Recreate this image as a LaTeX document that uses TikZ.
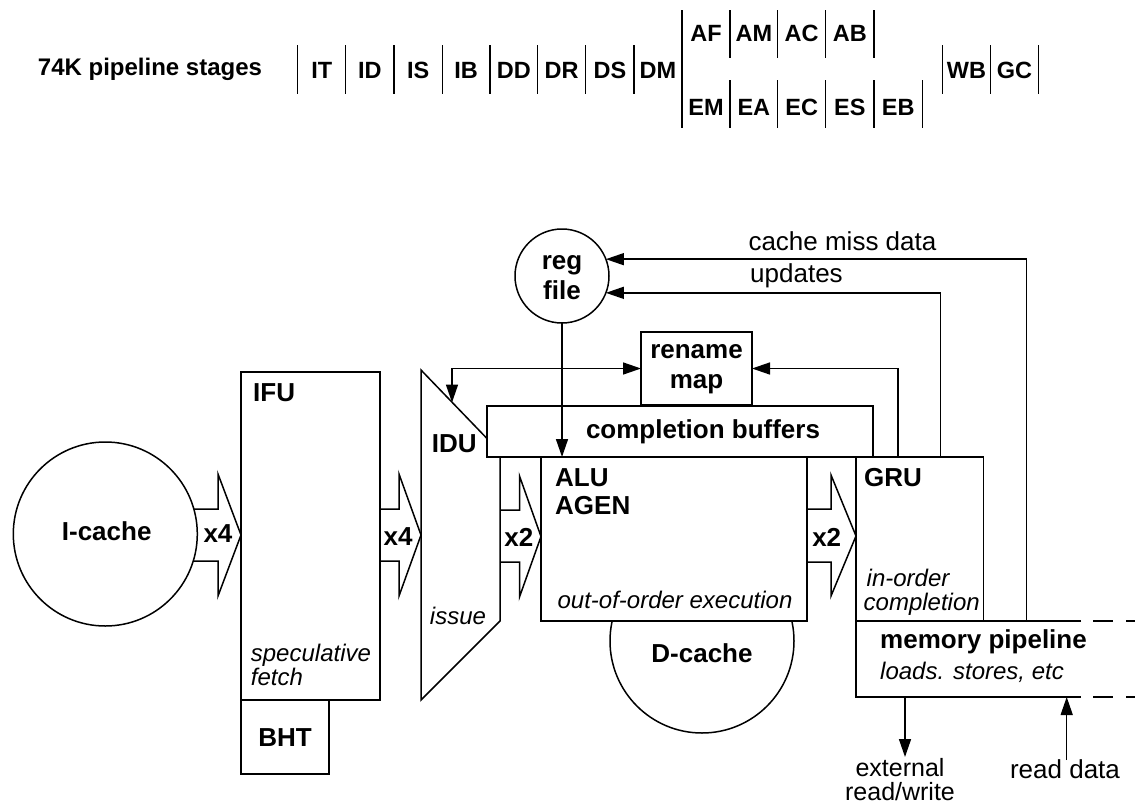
\documentclass[tikz,border=0pt]{standalone}
\usepackage{fontspec}
\setmainfont{Liberation Sans}
\usetikzlibrary{arrows.meta,calc}
\tikzset{
  ln/.style={line width=1.5pt},
  blk/.style={draw, line width=1.5pt, inner sep=0pt, outer sep=0pt, fill=white},
  bl/.style={font=\fontsize{26}{30}\selectfont\bfseries, inner sep=0pt},
  it/.style={font=\fontsize{24}{26}\selectfont\itshape, inner sep=0pt},
  rg/.style={font=\fontsize{26}{28}\selectfont, inner sep=0pt},
  stg/.style={font=\fontsize{23.5}{28}\selectfont\bfseries, inner sep=0pt, anchor=base},
  arr/.style={line width=1.5pt, -{Triangle[length=18pt,width=12pt]}},
  arrb/.style={line width=1.5pt, {Triangle[length=18pt,width=12pt]}-{Triangle[length=18pt,width=12pt]}},
  barrow/.style={line width=1.5pt, line join=miter},
  dsh/.style={line width=1.5pt, dash pattern=on 20pt off 13pt, dash phase=21pt},
}
\begin{document}
\begin{tikzpicture}[x=1pt,y=-1pt]
\fill[white] (0,0) rectangle (1135,806);
\useasboundingbox (0,0) rectangle (1135,806);

% ---------- pipeline stages ----------
\node[font=\fontsize{24}{28}\selectfont\bfseries, inner sep=0pt, anchor=base] (title) at (150,75) {74K pipeline stages};
\foreach \x in {297.7,345.7,394,442.3,490,537.7,585.7,634}
  \draw[ln] (\x,45) -- (\x,94.3);
\draw[ln] (682,10) -- (682,128.3);
\foreach \x in {730,777.7,825.7,874}
  \draw[ln] (\x,10) -- (\x,58.3);
\foreach \x in {730,777.7,825.7,874,922.3}
  \draw[ln] (\x,80) -- (\x,128.3);
\foreach \x in {942.3,990.7,1038.3}
  \draw[ln] (\x,45) -- (\x,94.3);
\foreach \t/\x in {IT/321.7,ID/369.85,IS/418.15,IB/466.15,DD/513.85,DR/561.7,DS/609.85,DM/658,WB/966.5,GC/1014.5}
  \node[stg] (s\t) at (\x,78.3) {\t};
\foreach \t/\x in {AF/706,AM/753.85,AC/801.7,AB/849.85}
  \node[stg] (s\t) at (\x,41.7) {\t};
\foreach \t/\x in {EM/706,EA/753.85,EC/801.7,ES/849.85,EB/898.15}
  \node[stg] (s\t) at (\x,115) {\t};

% ---------- I-cache and IFU ----------
\node[blk, circle, minimum size=184pt] (icache) at (105.3,534) {};
\node[bl, anchor=base] (icachel) at (106.7,540.3) {I-cache};
\node[blk, minimum width=139pt, minimum height=328pt] (ifu) at (310.5,536) {};
\node[blk, minimum width=88pt, minimum height=74pt] (bht) at (285,737) {};
\node[bl, anchor=base] (bhtl) at (285,746) {BHT};
\node[bl, anchor=base west] (iful) at (253,401.3) {IFU};
\node[it, anchor=base west] (spec1) at (250.7,661.7) {speculative};
\node[it, anchor=base west] (spec2) at (250.7,685) {fetch};

% block arrow I-cache -> IFU
\draw[barrow] (193.8,509) -- (218,509) -- (218,474) -- (ifu.west |- 0,535) -- (218,596) -- (218,561) -- (193.8,561);
\node[bl, anchor=base] (x4a) at (218,542.3) {x4};
% block arrow IFU -> IDU
\coordinate (idutl) at (421,370);
\coordinate (idutr) at (500,452);
\coordinate (idubr) at (500,621);
\coordinate (idubl) at (421,700);
\draw[barrow] (ifu.east |- 0,509) -- (399,509) -- (399,474) -- (idutl |- 0,535) -- (399,596) -- (399,561) -- (ifu.east |- 0,561);
\node[bl, anchor=base] (x4b) at (398,545) {x4};

% ---------- IDU ----------
\draw[ln, line join=miter] (idutl) -- (idutr) -- (idubr) -- (idubl) -- cycle;
\node[bl, anchor=base west] (idul) at (431.7,452.3) {IDU};
\node[it, anchor=base] (issue) at (458,624.5) {issue};

% ---------- D-cache, ALU ----------
\node[blk, circle, minimum size=184pt] (dcache) at (702,641) {};
\node[blk, minimum width=266pt, minimum height=164pt] (alu) at (674,539) {};
\node[bl, anchor=base] (dcachel) at (702,662.5) {D-cache};
\node[bl, anchor=base west] (alul) at (555,486) {ALU};
\node[bl, anchor=base west] (agenl) at (555,514.3) {AGEN};
\node[it, anchor=base] (ooo) at (675,608) {out-of-order execution};

% block arrow IDU -> ALU
\draw[barrow] (idubr |- 0,510) -- (519.5,510) -- (519.5,476) -- (alu.west |- 0,536.5) -- (519.5,597) -- (519.5,562) -- (idubr |- 0,562);
\node[bl, anchor=base] (x2a) at (518.8,546) {x2};

% ---------- completion buffers, rename map, reg file ----------
\node[blk, minimum width=386pt, minimum height=51pt] (cb) at (680,431.5) {};
\node[bl, anchor=base] (cbl) at (703,438.3) {completion buffers};
\node[blk, minimum width=111pt, minimum height=73pt] (rename) at (696.5,368.5) {};
\node[bl, anchor=base] (rename1) at (696.5,358.5) {rename};
\node[bl, anchor=base] (rename2) at (696.5,388.5) {map};
\node[blk, circle, minimum size=94pt] (regf) at (562,276) {};
\node[bl, anchor=base] (reg1) at (562,269) {reg};
\node[bl, anchor=base] (reg2) at (562,299) {file};

% ---------- GRU and memory pipeline ----------
\node[blk, minimum width=127.5pt, minimum height=164pt] (gru) at (919.75,539) {};
\node[bl, anchor=base west] (grul) at (864,486.3) {GRU};
\node[it, anchor=base west] (ino1) at (866.5,586.7) {in-order};
\node[it, anchor=base west] (ino2) at (863.5,610.7) {completion};

\coordinate (mtl) at (856,621);
\coordinate (mbl) at (856,697);
\coordinate (mtr) at (1081,621);
\coordinate (mbr) at (1081,697);
\coordinate (mte) at (1135,621);
\coordinate (mbe) at (1135,697);
\draw[ln] (mtr) -- (mtl) -- (mbl) -- (mbr);
\draw[dsh] (mtr) -- (mte);
\draw[dsh] (mbr) -- (mbe);
\node[bl, anchor=base west] (meml) at (880,648.5) {memory pipeline};
\node[it, anchor=base west] (loads) at (880,679.3) {loads. stores, etc};

% block arrow ALU -> GRU
\draw[barrow] (alu.east |- 0,509) -- (831,509) -- (831,475) -- (gru.west |- 0,536) -- (831,596) -- (831,562) -- (alu.east |- 0,562);
\node[bl, anchor=base] (x2b) at (826.7,546) {x2};

% ---------- connectors ----------
\coordinate (rc) at (452,368.5);
\coordinate (iduhit) at (452,402.5);
\draw[arrb] (iduhit) -- (rc) -- (rename.west);
\draw[arr] (regf.south) -- (regf.south |- alu.north);
\coordinate (g1) at (898,457);
\coordinate (g2) at (940.5,457);
\coordinate (m1) at (1026.7,621);
\draw[arr] (g1) |- (rename.east);
\draw[arr] (g2) |- (regf.-21.2);
\draw[arr] (m1) |- (regf.21.2);
\node[rg, anchor=base west] (cmd) at (748.3,250) {cache miss data};
\node[rg, anchor=base west] (upd) at (750,282.7) {updates};

\coordinate (ex0) at (905,697);
\coordinate (ex1) at (905,757);
\draw[arr] (ex0) -- (ex1);
\node[font=\fontsize{25}{24}\selectfont, inner sep=0pt, align=center, anchor=north] (ext) at (900,758) {external\\read/write};
\coordinate (rd0) at (1066.7,760);
\coordinate (rd1) at (1066.7,697);
\draw[arr] (rd0) -- (rd1);
\node[rg, anchor=base] (rdl) at (1065,778.3) {read data};
\end{tikzpicture}
\end{document}
